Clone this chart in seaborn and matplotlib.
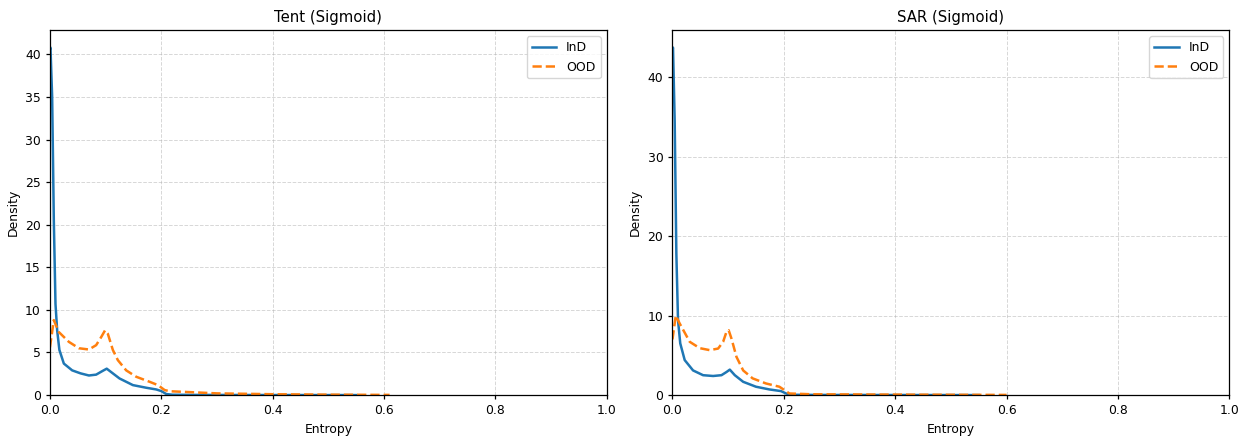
import matplotlib
matplotlib.use("Agg")
import matplotlib.pyplot as plt
import seaborn as sns
import pandas as pd

# ── Dados (entropia x densidade) ────────────────────────────────────────────

TENT_IND_X = [0.0, 0.001, 0.004, 0.007, 0.010, 0.013, 0.017, 0.025, 0.040, 0.055,
              0.070, 0.083, 0.095, 0.102, 0.110, 0.125, 0.149, 0.173, 0.191, 0.200,
              0.209, 0.220, 0.260, 0.350, 0.450, 0.550]
TENT_IND_Y = [40.6, 40.8, 35.0, 20.5, 10.7, 7.6, 5.3, 3.7, 2.9, 2.55,
              2.3, 2.4, 2.85, 3.1, 2.7, 1.95, 1.17, 0.86, 0.66, 0.47,
              0.12, 0.04, 0.02, 0.01, 0.005, 0.0]

TENT_OOD_X = [0.0, 0.007, 0.016, 0.034, 0.052, 0.070, 0.083, 0.092, 0.099, 0.104,
              0.113, 0.122, 0.137, 0.155, 0.179, 0.194, 0.206, 0.215, 0.250, 0.300,
              0.400, 0.500, 0.610]
TENT_OOD_Y = [5.6, 8.8, 7.4, 6.25, 5.5, 5.35, 5.86, 6.8, 7.6, 7.2,
              5.3, 4.1, 2.9, 2.15, 1.56, 1.17, 0.59, 0.45, 0.35, 0.2,
              0.1, 0.05, 0.02]

SAR_IND_X = [0.0, 0.001, 0.004, 0.007, 0.010, 0.014, 0.022, 0.037, 0.055, 0.073,
             0.088, 0.097, 0.103, 0.112, 0.127, 0.150, 0.174, 0.195, 0.204, 0.213,
             0.260, 0.400, 0.550]
SAR_IND_Y = [43.5, 43.7, 34.5, 17.8, 9.4, 6.5, 4.4, 3.1, 2.5, 2.4,
             2.5, 2.9, 3.2, 2.5, 1.67, 1.05, 0.71, 0.5, 0.2, 0.04,
             0.02, 0.01, 0.0]

SAR_OOD_X = [0.0, 0.006, 0.013, 0.031, 0.049, 0.067, 0.082, 0.091, 0.097, 0.101,
             0.106, 0.115, 0.127, 0.144, 0.168, 0.192, 0.201, 0.210, 0.250, 0.400,
             0.500, 0.600]
SAR_OOD_Y = [7.0, 10.0, 9.0, 6.7, 5.9, 5.65, 5.85, 6.7, 7.95, 8.15,
             7.1, 4.8, 3.1, 2.1, 1.46, 1.05, 0.63, 0.2, 0.1, 0.06,
             0.04, 0.02]

PANELS = [
    ("Tent (Sigmoid)", TENT_IND_X, TENT_IND_Y, TENT_OOD_X, TENT_OOD_Y),
    ("SAR (Sigmoid)", SAR_IND_X, SAR_IND_Y, SAR_OOD_X, SAR_OOD_Y),
]

plt.rcParams["font.size"] = 8.9
plt.rcParams["axes.titlesize"] = 10.7
plt.rcParams["axes.labelsize"] = 8.9
plt.rcParams["axes.linewidth"] = 0.9
plt.rcParams["xtick.major.width"] = 0.9
plt.rcParams["ytick.major.width"] = 0.9
plt.rcParams["xtick.major.size"] = 3.1
plt.rcParams["ytick.major.size"] = 3.1


def plot_panel(ax, title, ind_x, ind_y, ood_x, ood_y):
    df_ind = pd.DataFrame({"Entropy": ind_x, "Density": ind_y})
    df_ood = pd.DataFrame({"Entropy": ood_x, "Density": ood_y})
    sns.lineplot(data=df_ind, x="Entropy", y="Density", ax=ax,
                 color="#1f77b4", linewidth=1.8, label="InD")
    sns.lineplot(data=df_ood, x="Entropy", y="Density", ax=ax,
                 color="#ff7f0e", linewidth=1.8, linestyle="--", label="OOD")
    ax.set_xlim(0, 1)
    ax.set_ylim(bottom=0)
    ax.set_title(title)
    ax.set_xlabel("Entropy")
    ax.set_ylabel("Density")
    ax.grid(True, linestyle="--", linewidth=0.7, alpha=0.5)
    ax.legend(loc="upper right")


def main():
    fig, axes = plt.subplots(1, 2, figsize=(12.48, 4.38), dpi=100)
    for ax, (title, ix, iy, ox, oy) in zip(axes, PANELS):
        plot_panel(ax, title, ix, iy, ox, oy)
    fig.subplots_adjust(left=0.040, right=0.985, bottom=0.098, top=0.931, wspace=0.118)
    fig.savefig("out.png", dpi=100)
    plt.close(fig)


if __name__ == "__main__":
    main()
